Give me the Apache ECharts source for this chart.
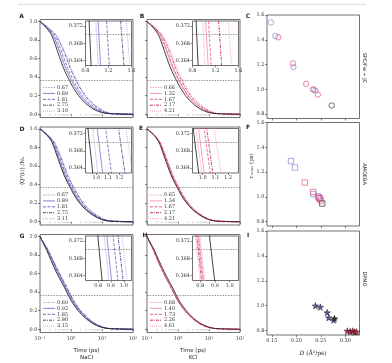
<!DOCTYPE html>
<html><head><meta charset="utf-8">
<script src="https://cdn.jsdelivr.net/npm/echarts@6/dist/echarts.min.js"></script>
<style>html,body{margin:0;padding:0;background:#fff}#c{width:392px;height:363px}</style>
</head><body><div id="c"></div>
<script>
// ---------- DATA ----------
// Q(t)/N0 levels at which each curve's times are listed
const qLevels = [1.0, 0.93, 0.86, 0.75, 0.62, 0.5, 0.42, 0.372, 0.364, 0.3, 0.2, 0.12, 0.06, 0.025, 0.008, 0.0];

// SPC/Fw + JC, NaCl (A)
const concA = ['0.67','0.89','1.81','2.75','3.10'];
const timesA_water = [0.1,0.16,0.23,0.31,0.42,0.57,0.73,0.866,0.894,1.12,1.75,2.9,5.0,8.5,15,100];
const timesA_salt = [
 [0.1,0.166,0.248,0.345,0.477,0.648,0.829,0.984,1.016,1.272,1.988,3.29,5.68,9.47,16.2,100],
 [0.1,0.168,0.254,0.357,0.496,0.674,0.863,1.024,1.057,1.324,2.07,3.43,5.91,9.8,16.6,100],
 [0.1,0.175,0.276,0.401,0.568,0.771,0.987,1.171,1.209,1.514,2.37,3.92,6.76,10.98,17.97,100],
 [0.1,0.185,0.309,0.471,0.687,0.933,1.194,1.417,1.463,1.832,2.86,4.74,8.18,12.91,20.2,100],
 [0.1,0.189,0.322,0.499,0.735,0.998,1.278,1.516,1.565,1.96,3.06,5.08,8.75,13.68,21.0,100]
];
// SPC/Fw + JC, KCl (B)
const concB = ['0.66','1.32','1.67','2.17','4.21'];
const timesB_water = [0.1,0.16,0.23,0.31,0.42,0.57,0.73,0.866,0.894,1.12,1.75,2.9,5.0,8.5,15,100];
const timesB_salt = [
 [0.1,0.166,0.248,0.345,0.477,0.648,0.829,0.984,1.016,1.272,1.988,3.29,5.68,9.47,16.2,100],
 [0.1,0.169,0.256,0.360,0.501,0.680,0.871,1.033,1.067,1.336,2.088,3.46,5.97,9.88,16.7,100],
 [0.1,0.171,0.263,0.375,0.525,0.713,0.913,1.083,1.118,1.40,2.19,3.63,6.25,10.28,17.1,100],
 [0.1,0.179,0.288,0.426,0.611,0.829,1.062,1.260,1.301,1.63,2.55,4.22,7.28,11.69,18.8,100],
 [0.1,0.186,0.310,0.474,0.692,0.939,1.203,1.427,1.473,1.846,2.88,4.78,8.24,13.0,20.2,100]
];
// AMOEBA, NaCl (D)
const concD = ['0.67','0.89','1.81','2.75','3.11'];
const timesD_water = [0.1,0.17,0.24,0.32,0.44,0.6,0.78,0.93,0.964,1.2,1.9,3.2,5.7,9.5,16,100];
const timesD_salt = [
 [0.1,0.172,0.246,0.332,0.460,0.627,0.815,0.972,1.007,1.254,1.986,3.34,5.96,9.86,16.4,100],
 [0.1,0.174,0.252,0.344,0.479,0.653,0.849,1.012,1.049,1.306,2.067,3.48,6.20,10.2,16.8,100],
 [0.1,0.178,0.263,0.365,0.513,0.700,0.910,1.085,1.125,1.40,2.22,3.73,6.65,10.83,17.55,100],
 [0.1,0.183,0.279,0.397,0.567,0.773,1.005,1.198,1.242,1.546,2.45,4.12,7.34,11.78,18.6,100],
 [0.1,0.186,0.288,0.415,0.597,0.814,1.058,1.262,1.308,1.628,2.58,4.34,7.73,12.3,19.2,100]
];
// AMOEBA, KCl (E)
const concE = ['0.65','1.34','1.67','2.17','4.21'];
const timesE_water = [0.1,0.17,0.24,0.32,0.44,0.6,0.78,0.93,0.964,1.2,1.9,3.2,5.7,9.5,16,100];
const timesE_salt = [
 [0.1,0.171,0.243,0.326,0.451,0.614,0.799,0.952,0.987,1.229,1.946,3.28,5.84,9.69,16.2,100],
 [0.1,0.172,0.246,0.332,0.460,0.627,0.815,0.972,1.007,1.254,1.986,3.34,5.96,9.86,16.4,100],
 [0.1,0.175,0.253,0.345,0.481,0.656,0.853,1.016,1.054,1.312,2.077,3.50,6.23,10.25,16.9,100],
 [0.1,0.176,0.256,0.351,0.490,0.668,0.869,1.036,1.074,1.337,2.117,3.56,6.35,10.41,17.1,100],
 [0.1,0.179,0.265,0.368,0.518,0.707,0.919,1.096,1.136,1.414,2.24,3.77,6.71,10.9,17.6,100]
];
// DPMD, NaCl (G)
const concG = ['0.69','0.92','1.85','2.80','3.15'];
const timesG_water = [0.1,0.125,0.16,0.22,0.33,0.51,0.68,0.80,0.826,1.04,1.7,2.9,5.1,8.8,15.5,100];
const timesG_salt = [
 [0.1,0.127,0.166,0.232,0.351,0.543,0.724,0.851,0.879,1.107,1.809,3.09,5.43,9.28,16.1,100],
 [0.1,0.128,0.168,0.237,0.359,0.555,0.741,0.871,0.9,1.133,1.851,3.16,5.55,9.46,16.3,100],
 [0.1,0.13,0.174,0.248,0.380,0.587,0.782,0.92,0.95,1.196,1.955,3.34,5.87,9.91,16.85,100],
 [0.1,0.132,0.178,0.257,0.396,0.611,0.815,0.959,0.99,1.247,2.04,3.48,6.11,10.27,17.3,100],
 [0.1,0.133,0.182,0.263,0.408,0.630,0.840,0.989,1.021,1.285,2.10,3.58,6.30,10.53,17.6,100]
];
// DPMD, KCl (H)
const concH = ['0.68','1.40','1.73','2.26','4.61'];
const timesH_water = [0.1,0.128,0.168,0.235,0.357,0.552,0.736,0.866,0.894,1.125,1.84,3.14,5.52,9.41,16.2,100];
const timesH_salt = [
 [0.1,0.125,0.16,0.22,0.33,0.51,0.68,0.801,0.827,1.04,1.7,2.9,5.1,8.8,15.5,100],
 [0.1,0.125,0.159,0.218,0.327,0.505,0.674,0.793,0.819,1.031,1.685,2.87,5.05,8.73,15.4,100],
 [0.1,0.124,0.158,0.217,0.325,0.502,0.669,0.787,0.813,1.023,1.673,2.85,5.02,8.68,15.3,100],
 [0.1,0.124,0.157,0.215,0.321,0.497,0.662,0.779,0.805,1.013,1.656,2.82,4.97,8.6,15.25,100],
 [0.1,0.124,0.156,0.213,0.318,0.491,0.655,0.770,0.795,1.002,1.637,2.79,4.91,8.52,15.2,100]
];

// Right column: diffusion D (Å^2/ps) vs tau_relax (ps)
const dC_nacl = [0.148,0.157,0.194,0.234,0.239];
const tauC_nacl = [1.54,1.43,1.18,1.00,0.99];
const dC_kcl = [0.163,0.193,0.220,0.235,0.244];
const tauC_kcl = [1.42,1.21,1.045,0.997,0.958];
const dC_water = [0.272];
const tauC_water = [0.87];

const dF_nacl = [0.189,0.197,0.235,0.244,0.247];
const tauF_nacl = [1.289,1.237,1.023,1.004,0.985];
const dF_kcl = [0.217,0.234,0.246,0.248,0.250];
const tauF_kcl = [1.116,1.039,0.995,0.990,0.970];
const dF_water = [0.253];
const tauF_water = [0.947];

const dI_nacl = [0.239,0.249,0.263,0.266,0.276];
const tauI_nacl = [1.000,0.989,0.945,0.904,0.885];
const dI_kcl = [0.304,0.310,0.315,0.319,0.323];
const tauI_kcl = [0.797,0.793,0.797,0.790,0.790];
const dI_water = [0.278];
const tauI_water = [0.897];

const logTicks = [0.1, 1, 10, 100];
const logTickLabels = ['10\u207B\u00B9', '10\u2070', '10\u00B9', '10\u00B2'];
const mainYTicks = [0, 0.2, 0.4, 0.6, 0.8, 1.0];
const insetYTicks = [0.364, 0.368, 0.372];
const rightXTicks = [0.15, 0.20, 0.25, 0.30];
const rightYTicks = [0.8, 1.0, 1.2, 1.4, 1.6];

// ---------- STYLES / LAYOUT ----------
const SERIF = 'DejaVu Serif';
const SANS = 'DejaVu Sans';
const naclStyles = [
  {c:'#a6a6e4', t:[1.6,1]}, {c:'#7878cf', t:'solid'}, {c:'#5a5aba', t:[3,1.5]},
  {c:'#33338c', t:[3,1,1,1]}, {c:'#8a8ad8', t:[0.8,1.3]}];
const kclStyles = [
  {c:'#f4a2b6', t:[1.6,1]}, {c:'#f48ea6', t:'solid'}, {c:'#ea5478', t:[3,1.5]},
  {c:'#c01c44', t:[3,1,1,1]}, {c:'#f07896', t:[0.8,1.3]}];

const panels = [
  {id:'A', L:40,  T:19.5, water:timesA_water, salt:timesA_salt, conc:concA, st:naclStyles, inset:[0.8,1.6],   iticks:[0.8,1.2,1.6], ylab:true,  xlab:false},
  {id:'B', L:147, T:19.5, water:timesB_water, salt:timesB_salt, conc:concB, st:kclStyles,  inset:[0.8,1.6],   iticks:[0.8,1.2,1.6], ylab:false, xlab:false},
  {id:'D', L:40,  T:127,  water:timesD_water, salt:timesD_salt, conc:concD, st:naclStyles, inset:[0.905,1.305], iticks:[1.0,1.1,1.2], ylab:true,  xlab:false},
  {id:'E', L:147, T:127,  water:timesE_water, salt:timesE_salt, conc:concE, st:kclStyles,  inset:[0.92,1.28],  iticks:[1.0,1.1,1.2], ylab:false, xlab:false},
  {id:'G', L:40,  T:234.5,water:timesG_water, salt:timesG_salt, conc:concG, st:naclStyles, inset:[0.70,1.06],  iticks:[0.8,0.9,1.0], ylab:true,  xlab:true},
  {id:'H', L:147, T:234.5,water:timesH_water, salt:timesH_salt, conc:concH, st:kclStyles,  inset:[0.747,1.06], iticks:[0.8,0.9,1.0], ylab:false, xlab:true}
];
const PW = 93, PH = 98;

const grid = [], xAxis = [], yAxis = [], series = [], graphic = [];
const frame = {show:true, borderColor:'#333', borderWidth:0.7, backgroundColor:'transparent'};
const tick = (vals) => ({show:true, length:2, lineStyle:{color:'#333', width:0.6}, customValues: vals});
const lbl = (show, vals, fmt, extra) => Object.assign({show:show, customValues: vals, formatter: fmt, fontSize:5, fontFamily:SERIF, color:'#333', margin:2.5}, extra||{});
function curve(times){ return times.map((t,i)=>[t, qLevels[i]]); }
const eLine = {silent:true, symbol:'none', label:{show:false}, animation:false,
  lineStyle:{type:[1.5,1.2], color:'#555', width:0.6}, data:[{yAxis:0.3679}]};

panels.forEach(p => {
  // main grid
  const gi = grid.length;
  grid.push(Object.assign({left:p.L, top:p.T, width:PW, height:PH, containLabel:false, outerBoundsMode:'none'}, frame));
  xAxis.push({type:'log', gridIndex:gi, min:0.1, max:100, logBase:10,
    axisLine:{show:false}, splitLine:{show:false},
    axisTick: tick(logTicks),
    minorTick:{show:true, splitNumber:9, length:1.2, lineStyle:{color:'#333', width:0.4}},
    axisLabel: lbl(p.xlab, logTicks, v => logTickLabels[logTicks.findIndex(x=>Math.abs(x-v)<1e-9)] || '', {margin:3.5})});
  yAxis.push({type:'value', gridIndex:gi, min:-0.035, max:1.02,
    axisLine:{show:false}, splitLine:{show:false},
    axisTick: tick(mainYTicks),
    axisLabel: lbl(p.ylab, mainYTicks, v => v.toFixed(1))});
  p.salt.forEach((ts, k) => {
    series.push({type:'line', name:p.id + '|' + p.conc[k], xAxisIndex:gi, yAxisIndex:gi, data:curve(ts), symbol:'none', smooth:0.3,
      lineStyle:{color:p.st[k].c, width:0.8, type:p.st[k].t}, itemStyle:{color:p.st[k].c}, animation:false, z:2});
    // legend entry (drawn manually so the dash pattern matches)
    const ly = p.T + 68 + 5.9 * k;
    graphic.push({type:'line', silent:true, shape:{x1:p.L+3, y1:ly, x2:p.L+15, y2:ly},
      style:{stroke:p.st[k].c, lineWidth:0.9, lineDash: p.st[k].t === 'solid' ? null : p.st[k].t}});
    graphic.push({type:'text', silent:true, x:p.L+17, y:ly,
      style:{text:p.conc[k], font:'5px '+SERIF, fill:'#333', textAlign:'left', textVerticalAlign:'middle'}});
  });
  series.push({type:'line', name:p.id+'|water', xAxisIndex:gi, yAxisIndex:gi, data:curve(p.water), symbol:'none', smooth:0.3,
    lineStyle:{color:'#111', width:0.8}, animation:false, z:3, markLine:eLine});

  // inset grid
  const ii = grid.length;
  grid.push(Object.assign({left:p.L+45.5, top:p.T+1.5, width:46, height:44.5, containLabel:false, outerBoundsMode:'none', z:5}, frame, {backgroundColor:'#fff'}));
  xAxis.push({type:'value', gridIndex:ii, min:p.inset[0], max:p.inset[1],
    axisLine:{show:false}, splitLine:{show:false},
    axisTick: tick(p.iticks), axisLabel: lbl(true, p.iticks, v => v.toFixed(1))});
  yAxis.push({type:'value', gridIndex:ii, min:0.3629, max:0.3731,
    axisLine:{show:false}, splitLine:{show:false},
    axisTick: tick(insetYTicks), axisLabel: lbl(true, insetYTicks, v => v.toFixed(3))});
  p.salt.forEach((ts, k) => {
    series.push({type:'line', name:p.id+'i|'+p.conc[k], xAxisIndex:ii, yAxisIndex:ii, data:curve(ts), symbol:'none',
      lineStyle:{color:p.st[k].c, width:0.8, type:p.st[k].t}, animation:false, clip:true, z:6});
  });
  series.push({type:'line', name:p.id+'i|water', xAxisIndex:ii, yAxisIndex:ii, data:curve(p.water), symbol:'none',
    lineStyle:{color:'#111', width:0.8}, animation:false, clip:true, z:7, markLine:eLine});
});

// Right column
const right = [
  {id:'C', T:15,    H:103.5, sym:'circle', data:[[dC_nacl,tauC_nacl],[dC_kcl,tauC_kcl],[dC_water,tauC_water]], xlab:false},
  {id:'F', T:122.5, H:103.5, sym:'rect',   data:[[dF_nacl,tauF_nacl],[dF_kcl,tauF_kcl],[dF_water,tauF_water]], xlab:false},
  {id:'I', T:231,   H:104,   sym:'path://M50,0 L61,35 L98,35 L68,57 L79,91 L50,70 L21,91 L32,57 L2,35 L39,35 Z', data:[[dI_nacl,tauI_nacl],[dI_kcl,tauI_kcl],[dI_water,tauI_water]], xlab:true, filled:true}
];
const rCols = ['#7a7ad0', '#e8466c', '#222'];
const rFill = ['#5050a8', '#d42048', '#333'];
right.forEach(r => {
  const gi = grid.length;
  grid.push(Object.assign({left:267, top:r.T, width:92.5, height:r.H, containLabel:false, outerBoundsMode:'none'}, frame));
  xAxis.push({type:'value', gridIndex:gi, min:0.14, max:0.329,
    axisLine:{show:false}, splitLine:{show:false},
    axisTick: tick(rightXTicks), axisLabel: lbl(r.xlab, rightXTicks, v => v.toFixed(2), {margin:3.5})});
  yAxis.push({type:'value', gridIndex:gi, min:0.765, max:1.6,
    axisLine:{show:false}, splitLine:{show:false},
    axisTick: tick(rightYTicks), axisLabel: lbl(true, rightYTicks, v => v.toFixed(1))});
  r.data.forEach((pair, k) => {
    series.push({type:'scatter', name:r.id+'|'+k, xAxisIndex:gi, yAxisIndex:gi,
      data: pair[0].map((d,i)=>[d, pair[1][i]]),
      symbol:r.sym, symbolSize: r.filled ? 6.5 : 5.4, animation:false, z: k===1?4:3,
      itemStyle: r.filled ? {color:rFill[k], borderColor:'#1a1a1a', borderWidth:0.5, opacity:0.95}
                          : {color:'rgba(0,0,0,0)', borderColor:rCols[k], borderWidth:0.8}});
  });
});

const txt = (x, y, s, o) => ({type:'text', x:x, y:y, rotation:(o&&o.rot)||0, silent:true,
  style:Object.assign({text:s, fill:'#222', font:(o&&o.font)||('5px '+SERIF), textAlign:'center', textVerticalAlign:'middle'}, (o&&o.style)||{})});

graphic.push(
  {type:'line', shape:{x1:18, y1:4.3, x2:366, y2:4.3}, style:{stroke:'#cfcfcf', lineWidth:0.8}, silent:true},
  txt(21.5,16.5,'A',{font:'bold 6px '+SANS}), txt(142,16.5,'B',{font:'bold 6px '+SANS}), txt(248,16.5,'C',{font:'bold 6px '+SANS}),
  txt(22,129,'D',{font:'bold 6px '+SANS}), txt(141,128.5,'E',{font:'bold 6px '+SANS}), txt(248,127,'F',{font:'bold 6px '+SANS}),
  txt(22,236,'G',{font:'bold 6px '+SANS}), txt(145,235.5,'H',{font:'bold 6px '+SANS}), txt(248,235,'I',{font:'bold 6px '+SANS}),
  txt(22.5,171,'\u27E8Q\u1D3E(t)\u27E9 /N\u2092',{rot:Math.PI/2, font:'5.5px '+SERIF}),
  txt(252,166,'\u03C4\u1D63\u2091\u2097\u2090\u2093 (ps)',{rot:Math.PI/2, font:'5.5px '+SERIF}),
  txt(364,68,'SPC/Fw + JC',{rot:-Math.PI/2, font:'5px '+SANS}),
  txt(364,174,'AMOEBA',{rot:-Math.PI/2, font:'5px '+SANS}),
  txt(364,279,'DPMD',{rot:-Math.PI/2, font:'5px '+SANS}),
  txt(86.5,350.5,'Time (ps)',{font:'5.5px '+SANS}), txt(86.5,357.5,'NaCl',{font:'5.5px '+SANS}),
  txt(193,350.5,'Time (ps)',{font:'5.5px '+SANS}), txt(193,357.5,'KCl',{font:'5.5px '+SANS}),
  {type:'text', x:313, y:353, silent:true, style:{text:'{i|D} (\u00C5\u00B2/ps)', font:'6px '+SERIF, fill:'#222', textAlign:'center', textVerticalAlign:'middle',
    rich:{i:{fontStyle:'italic', fontFamily:SERIF, fontSize:6}}}}
);

const chart = echarts.init(document.getElementById('c'), null, {renderer:'canvas'});
chart.setOption({animation:false, backgroundColor:'#fff', grid, xAxis, yAxis, series, graphic});
</script></body></html>
